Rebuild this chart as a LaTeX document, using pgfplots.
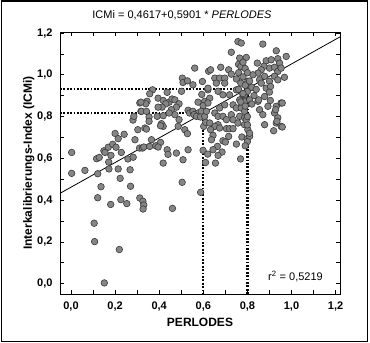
\documentclass[border=0pt]{standalone}
\usepackage{pgfplots}
\pgfplotsset{compat=1.18}
\usepackage{fontspec}
\setmainfont{Liberation Sans}
\definecolor{ptfill}{HTML}{858585}
\definecolor{ptedge}{HTML}{3A3A3A}
\begin{document}
\begin{tikzpicture}[x=1pt,y=1pt]
\useasboundingbox (0,0) rectangle (370,343);
\draw[line width=1.4pt] (1.2,1.5) rectangle (367.5,341.8);
\node[font=\fontsize{11}{13}\selectfont, anchor=center] at (182,328) {ICMi = 0,4617+0,5901 * \textit{PERLODES}};
\begin{axis}[
  at={(60pt,49pt)}, anchor=south west,
  width=280pt, height=262pt, scale only axis,
  xmin=-0.05, xmax=1.22, ymin=-0.05, ymax=1.205,
  xtick={0,0.2,0.4,0.6,0.8,1.0,1.2},
  xticklabels={{0,0},{0,2},{0,4},{0,6},{0,8},{1,0},{1,2}},
  ytick={0,0.2,0.4,0.6,0.8,1.0,1.2},
  yticklabels={{0,0},{0,2},{0,4},{0,6},{0,8},{1,0},{1,2}},
  minor tick num=1,
  tick align=inside,
  major tick length=4pt, minor tick length=4pt,
  tick style={black, line width=0.6pt},
  ticklabel style={font=\fontsize{11}{13}\selectfont\bfseries},
  xticklabel style={yshift=-4pt},
  yticklabel style={xshift=-4pt},
  axis line style={line width=0.9pt},
  clip=false,
  xlabel={PERLODES},
  xlabel style={font=\fontsize{12}{14}\selectfont\bfseries, at={(axis description cs:0.5,0)}, anchor=north, yshift=-21pt},
  ylabel={Interkalibrierungs-Index (ICMi)},
  ylabel style={font=\fontsize{12}{14}\selectfont\bfseries, at={(axis description cs:0,0.5)}, anchor=south, yshift=22pt},
]
% dotted guide lines
\addplot[black, line width=2.2pt, dash pattern=on 1.8pt off 1.6pt] coordinates {(-0.05,0.9338) (0.8,0.9338) (0.8,-0.05)};
\addplot[black, line width=2.2pt, dash pattern=on 1.8pt off 1.6pt] coordinates {(-0.05,0.8158) (0.6,0.8158) (0.6,-0.05)};
% data
\addplot[only marks, mark=*, mark size=3.3pt, mark options={fill=ptfill, draw=ptedge, line width=0.6pt}] table {
x y
0.003 0.628
0.003 0.528
0.063 0.542
0.105 0.289
0.107 0.201
0.116 0.598
0.128 0.604
0.121 0.526
0.121 0.411
0.136 0.464
0.151 0.003
0.149 0.636
0.154 0.628
0.169 0.653
0.189 0.667
0.181 0.614
0.171 0.582
0.172 0.549
0.180 0.379
0.200 0.719
0.214 0.694
0.204 0.653
0.228 0.628
0.214 0.549
0.223 0.504
0.226 0.402
0.219 0.163
0.241 0.715
0.258 0.597
0.268 0.545
0.270 0.466
0.253 0.383
0.281 0.783
0.285 0.801
0.290 0.689
0.282 0.605
0.303 0.737
0.312 0.865
0.317 0.825
0.311 0.649
0.324 0.649
0.312 0.410
0.326 0.394
0.330 0.376
0.327 0.357
0.335 0.745
0.561 1.032
0.505 0.984
0.508 0.963
0.528 0.971
0.553 0.952
0.596 0.968
0.624 1.017
0.370 0.928
0.357 0.909
0.436 0.916
0.501 0.921
0.593 0.906
0.621 0.928
0.345 0.873
0.339 0.861
0.317 0.869
0.395 0.888
0.418 0.877
0.445 0.869
0.458 0.884
0.471 0.880
0.490 0.861
0.478 0.845
0.430 0.861
0.413 0.845
0.395 0.845
0.455 0.833
0.576 0.869
0.606 0.873
0.599 0.852
0.320 0.825
0.342 0.825
0.531 0.830
0.538 0.817
0.553 0.825
0.576 0.817
0.591 0.825
0.558 0.809
0.569 0.801
0.587 0.798
0.606 0.801
0.602 0.753
0.611 0.772
0.471 0.809
0.490 0.785
0.445 0.817
0.391 0.801
0.354 0.798
0.354 0.777
0.418 0.804
0.410 0.766
0.418 0.753
0.406 0.756
0.342 0.740
0.486 0.753
0.516 0.737
0.528 0.718
0.365 0.689
0.330 0.654
0.357 0.657
0.385 0.660
0.406 0.676
0.395 0.654
0.436 0.641
0.440 0.619
0.478 0.625
0.531 0.641
0.508 0.593
0.418 0.577
0.599 0.638
0.504 0.485
0.588 0.437
0.460 0.360
0.757 1.159
0.772 1.152
0.727 1.108
0.679 1.036
0.633 1.024
0.765 1.080
0.795 1.083
0.715 1.024
0.727 1.003
0.652 0.984
0.674 0.984
0.697 0.984
0.697 0.960
0.659 0.960
0.621 0.936
0.629 0.888
0.667 0.921
0.689 0.904
0.719 0.904
0.750 0.928
0.765 0.880
0.780 0.904
0.735 0.856
0.697 0.856
0.674 0.841
0.621 0.865
0.652 0.817
0.667 0.801
0.689 0.801
0.705 0.785
0.727 0.809
0.735 0.785
0.765 0.801
0.757 0.769
0.787 0.794
0.787 0.761
0.614 0.825
0.667 0.761
0.652 0.753
0.629 0.769
0.750 0.841
0.772 0.841
0.870 1.147
0.931 1.115
0.976 1.088
0.845 1.056
0.885 1.067
0.908 1.072
0.938 1.077
0.946 1.056
0.900 1.032
0.923 1.036
0.875 1.041
0.863 1.024
0.848 1.008
0.938 1.016
0.953 1.032
0.923 0.993
0.878 0.993
0.825 1.000
0.938 0.976
0.968 0.988
0.900 0.969
0.855 0.976
0.802 0.969
0.810 0.936
0.863 0.960
0.885 0.936
0.905 0.944
0.900 0.917
0.878 0.896
0.848 0.873
0.787 0.904
0.787 0.873
0.855 0.833
0.893 0.849
0.931 0.849
0.953 0.865
0.870 0.809
0.923 0.817
0.938 0.794
0.878 0.761
0.931 0.769
0.953 0.753
0.787 0.825
0.795 0.785
0.674 0.745
0.705 0.742
0.719 0.742
0.735 0.742
0.633 0.737
0.802 0.737
0.644 0.710
0.637 0.689
0.715 0.705
0.689 0.684
0.700 0.678
0.775 0.702
0.799 0.694
0.750 0.668
0.664 0.657
0.644 0.641
0.685 0.630
0.667 0.614
0.769 0.597
0.655 0.577
0.919 0.732
0.958 0.750
0.904 0.877
0.928 0.833
0.934 0.777
0.958 0.865
0.851 0.880
0.810 0.705
0.760 1.050
0.770 1.040
0.780 1.060
0.790 1.030
0.760 1.010
0.780 0.990
0.800 1.010
0.750 0.980
0.770 0.960
0.790 0.950
0.810 0.970
0.800 0.920
0.820 0.940
0.760 0.930
0.780 0.910
0.830 0.900
0.810 0.880
0.840 0.930
0.770 0.870
0.790 0.850
0.820 0.860
0.800 0.800
0.800 0.760
0.810 0.720
0.800 0.680
0.790 0.660
0.610 0.580
0.620 0.620
};
% regression line
\addplot[black, line width=0.8pt] coordinates {(-0.05,0.43220) (1.22,1.18162)};
\node[anchor=east, font=\fontsize{11}{13}\selectfont] at (axis cs:1.158,0.035) {r$^{\mathrm{2}}$ = 0,5219};
\end{axis}
\end{tikzpicture}
\end{document}
